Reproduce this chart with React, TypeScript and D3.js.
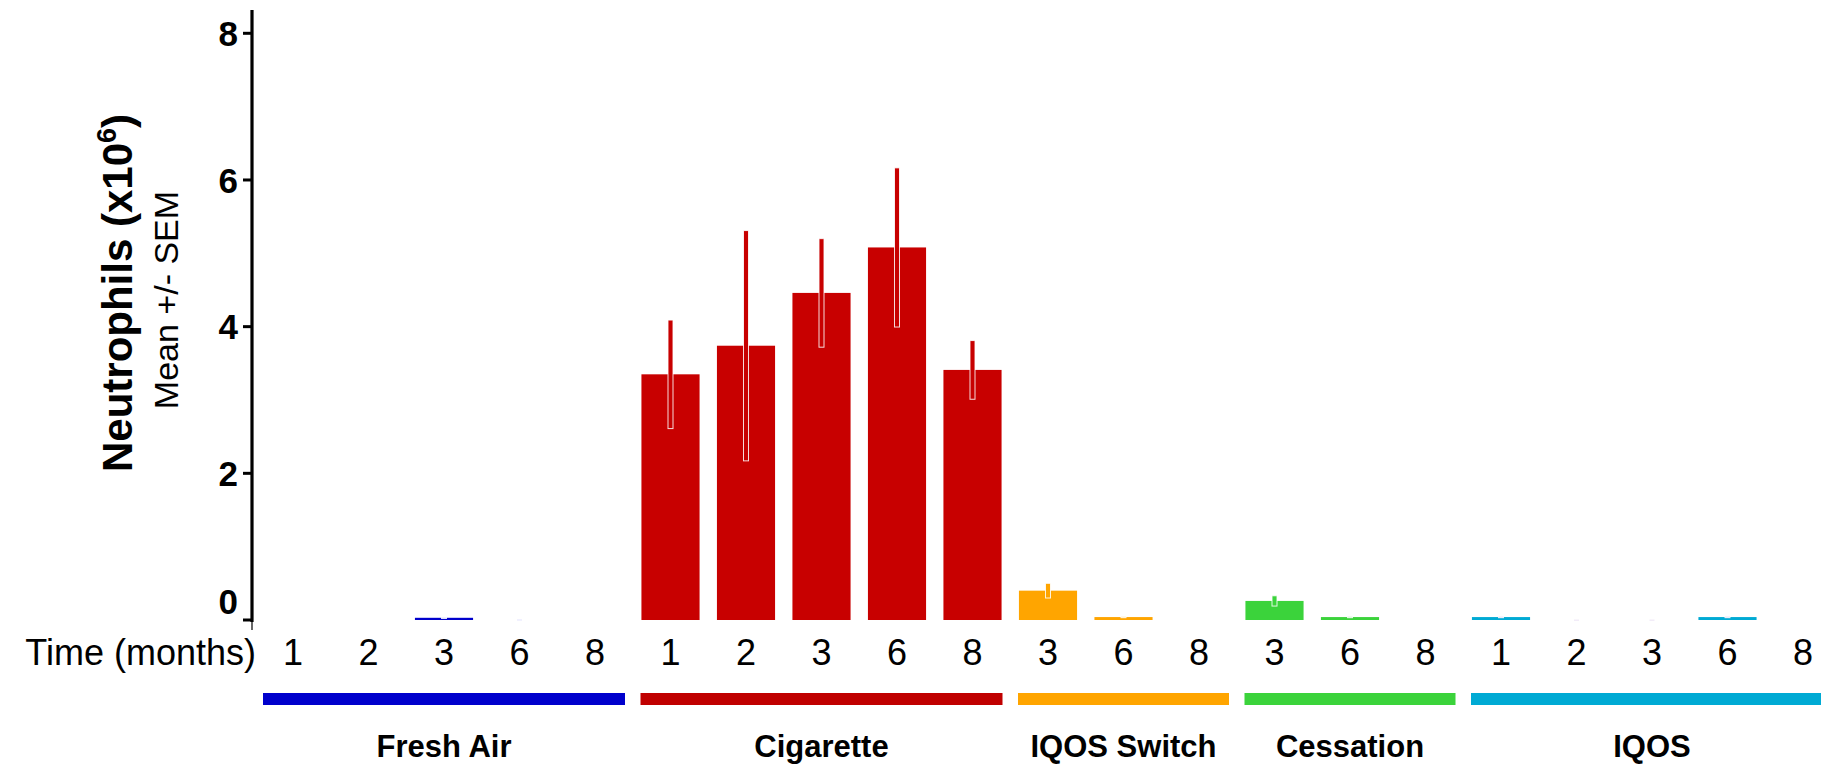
import React from "react";
import * as d3 from "d3";

// groups and their time points (months)
const groups = ["Fresh Air", "Cigarette", "IQOS Switch", "Cessation", "IQOS"];
const freshAirMonths = [1, 2, 3, 6, 8];
const cigaretteMonths = [1, 2, 3, 6, 8];
const switchMonths = [3, 6, 8];
const cessationMonths = [3, 6, 8];
const iqosMonths = [1, 2, 3, 6, 8];

// Neutrophils (x10^6), mean and SEM
const freshAirMean = [0, 0, 0.03, 0, 0];
const freshAirSem = [0, 0, 0.004, 0.006, 0];
const cigaretteMean = [3.35, 3.74, 4.46, 5.08, 3.41];
const cigaretteSem = [0.74, 1.57, 0.74, 1.085, 0.4];
const switchMean = [0.4, 0.04, 0];
const switchSem = [0.1, 0.005, 0];
const cessationMean = [0.26, 0.04, 0];
const cessationSem = [0.07, 0.005, 0];
const iqosMean = [0.04, 0, 0, 0.04, 0];
const iqosSem = [0.005, 0.002, 0.002, 0.005, 0];

const yTicks = [0, 2, 4, 6, 8];

const barColors = ["#0000cc", "#c80000", "#ffa500", "#3bd33b", "#00aad4"];
const lineColors = ["#0000cc", "#c00000", "#ffa500", "#3bd33b", "#00aad4"];
const errColors = ["#5555ee", "#c80000", "#ffa500", "#3bd33b", "#9b6fc8"];

const font = "'Liberation Sans', Arial, sans-serif";

interface Row {
	key: string;
	group: number;
	month: number;
	mean: number;
	sem: number;
}

const groupMonths = [freshAirMonths, cigaretteMonths, switchMonths, cessationMonths, iqosMonths];
const groupMeans = [freshAirMean, cigaretteMean, switchMean, cessationMean, iqosMean];
const groupSems = [freshAirSem, cigaretteSem, switchSem, cessationSem, iqosSem];

const rows: Row[] = [];
groupMonths.forEach((months, g) => {
	months.forEach((m, i) => {
		rows.push({ key: `${g}-${m}`, group: g, month: m, mean: groupMeans[g][i], sem: groupSems[g][i] });
	});
});

export default function App() {
	const width = 1821;
	const height = 766;
	const axisX = 252;

	const x = d3
		.scaleBand<string>()
		.domain(rows.map((d) => d.key))
		.range([255.25, 1840.75])
		.paddingInner(0.23)
		.paddingOuter(0.115);

	const y = d3.scaleLinear().domain([0, 8]).range([620, 33.3]);
	const bw = x.bandwidth();
	const cx = (k: string) => (x(k) || 0) + bw / 2;

	return (
		<svg
			width={width}
			height={height}
			style={{ position: "absolute", left: 0, top: 0, background: "#fff" }}
			fontFamily={font}
		>
			{/* y axis */}
			<line x1={axisX} x2={axisX} y1={10} y2={622} stroke="#000" strokeWidth={3.2} />
			<line x1={axisX} x2={axisX} y1={620} y2={630} stroke="#000" strokeWidth={1.2} />
			{yTicks.map((t) => (
				<g key={t}>
					<line x1={axisX - 9} x2={axisX} y1={y(t)} y2={y(t)} stroke="#000" strokeWidth={3} />
					<text
						x={238}
						y={t === 0 ? y(t) - 19 : y(t)}
						dy="0.36em"
						textAnchor="end"
						fontSize={35}
						fontWeight="bold"
					>
						{t}
					</text>
				</g>
			))}

			{/* y axis title */}
			<g transform="translate(132, 293) rotate(-90)">
				<text textAnchor="middle" fontSize={42} fontWeight="bold">
					Neutrophils (x10
					<tspan fontSize={27} dy={-16}>
						6
					</tspan>
					<tspan dy={16}>)</tspan>
				</text>
			</g>
			<g transform="translate(178, 300) rotate(-90)">
				<text textAnchor="middle" fontSize={34}>
					Mean +/- SEM
				</text>
			</g>

			{/* bars */}
			{rows
				.filter((d) => d.mean > 0)
				.map((d) => (
					<rect
						key={"b" + d.key}
						x={x(d.key)}
						y={y(d.mean)}
						width={bw}
						height={y(0) - y(d.mean)}
						fill={barColors[d.group]}
					/>
				))}

			{/* error bars */}
			{rows
				.filter((d) => d.sem > 0)
				.map((d) => {
					const top = y(d.mean + d.sem);
					const bottom = y(Math.max(0, d.mean - d.sem));
					return (
						<rect
							key={"e" + d.key}
							x={cx(d.key) - 2.5}
							y={top}
							width={5}
							height={Math.max(1, bottom - top)}
							fill={errColors[d.group]}
							stroke="#fff"
							strokeOpacity={0.85}
							strokeWidth={1}
						/>
					);
				})}

			{/* x tick labels */}
			<text x={256} y={665} textAnchor="end" fontSize={36}>
				Time (months)
			</text>
			{rows.map((d) => (
				<text key={"t" + d.key} x={cx(d.key)} y={665} textAnchor="middle" fontSize={36}>
					{d.month}
				</text>
			))}

			{/* group lines and labels */}
			{groups.map((g, gi) => {
				const keys = rows.filter((d) => d.group === gi).map((d) => d.key);
				const x1 = cx(keys[0]) - 30;
				const x2 = cx(keys[keys.length - 1]) + 30;
				return (
					<g key={g}>
						<line x1={x1} x2={x2} y1={699} y2={699} stroke={lineColors[gi]} strokeWidth={12} />
						<text
							x={(x1 + x2) / 2}
							y={757}
							textAnchor="middle"
							fontSize={31}
							fontWeight="bold"
						>
							{g}
						</text>
					</g>
				);
			})}
		</svg>
	);
}
